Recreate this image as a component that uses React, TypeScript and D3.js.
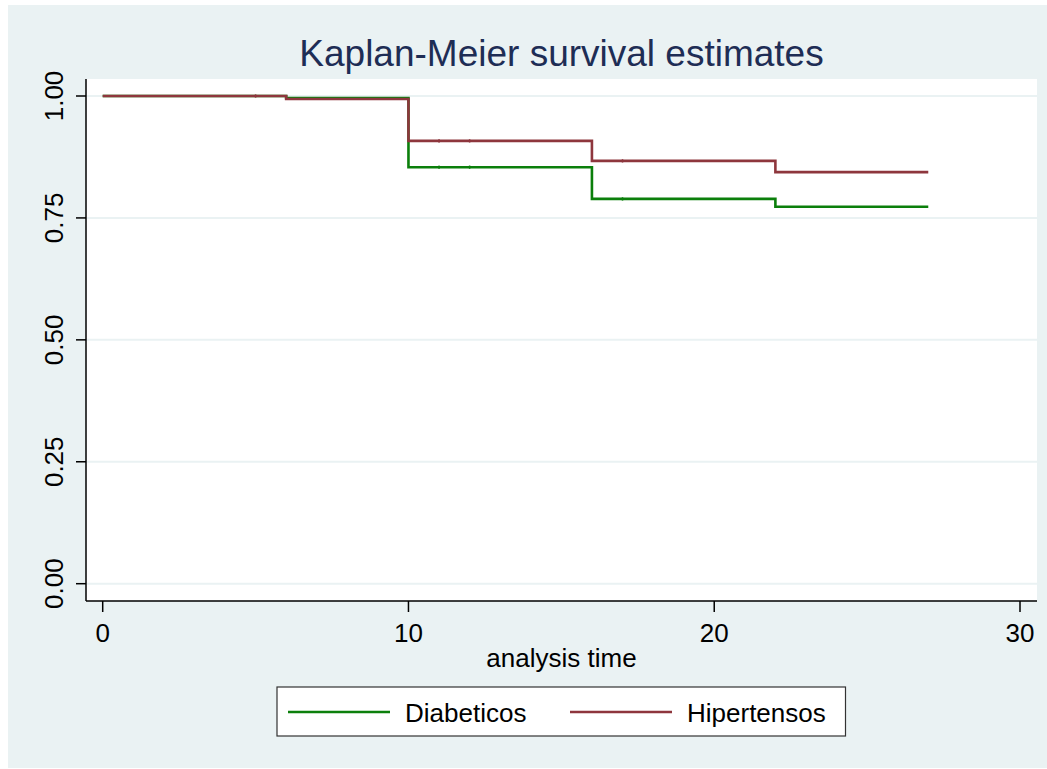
import React from "react";
import * as d3 from "d3";

const groups = ["Diabeticos", "Hipertensos"];
const colors = ["#0B7F0B", "#8E363D"];
// step times and survival values
const diabTimes = [0, 6, 10, 16, 22, 27];
const diabSurv = [1.0, 0.996, 0.854, 0.789, 0.773, 0.773];
const hipTimes = [0, 6, 10, 16, 22, 27];
const hipSurv = [1.0, 0.994, 0.908, 0.867, 0.844, 0.844];
// censoring times
const diabCensor = [11, 12, 17];
const hipCensor = [5, 11, 12, 17];
const xTicks = [0, 10, 20, 30];
const yTicks = [0, 0.25, 0.5, 0.75, 1.0];
const title = "Kaplan-Meier survival estimates";
const xTitle = "analysis time";

const W = 1047, H = 769;
const font = "'Liberation Sans', Arial, sans-serif";

function stepAt(times: number[], surv: number[], t: number) {
  let v = surv[0];
  for (let i = 0; i < times.length; i++) if (times[i] <= t) v = surv[i];
  return v;
}

export default function App() {
  const plotL = 86, plotR = 1037, plotT = 79, plotB = 601;
  const x = d3.scaleLinear().domain([0, 30]).range([102.7, 1020]);
  const y = d3.scaleLinear().domain([0, 1]).range([583.7, 96]);
  const line = d3.line<[number, number]>().x(d => x(d[0])).y(d => y(d[1])).curve(d3.curveStepAfter);
  const series = [
    { times: diabTimes, surv: diabSurv, censor: diabCensor },
    { times: hipTimes, surv: hipSurv, censor: hipCensor },
  ];
  return (
    <svg width={W} height={H} style={{ position: "absolute", left: 0, top: 0 }}>
      <rect x={0} y={0} width={W} height={H} fill="#fff" />
      <rect x={8} y={5} width={1039} height={763} fill="#EAF2F3" />
      <rect x={plotL} y={plotT} width={plotR - plotL} height={plotB - plotT} fill="#fff" />
      {yTicks.map(t => (
        <line key={"g" + t} x1={plotL} x2={plotR} y1={y(t)} y2={y(t)} stroke="#EAF2F3" strokeWidth={2} />
      ))}
      {series.map((s, i) => (
        <g key={i}>
          <path d={line(s.times.map((t, j) => [t, s.surv[j]] as [number, number])) || ""} fill="none" stroke={colors[i]} strokeWidth={2.6} />
          {s.censor.map(c => {
            const v = stepAt(s.times, s.surv, c);
            return <line key={c} x1={x(c)} x2={x(c)} y1={y(v) - 1.8} y2={y(v) + 1.8} stroke={colors[i]} strokeWidth={1.5} opacity={0.8} />;
          })}
        </g>
      ))}
      <line x1={plotL} x2={plotL} y1={plotT} y2={plotB} stroke="#000" strokeWidth={1.5} />
      <line x1={plotL} x2={plotR} y1={plotB} y2={plotB} stroke="#000" strokeWidth={1.5} />
      {yTicks.map(t => (
        <g key={"y" + t}>
          <line x1={plotL - 10} x2={plotL} y1={y(t)} y2={y(t)} stroke="#000" strokeWidth={1.5} />
          <text transform={`translate(63,${y(t)}) rotate(-90)`} textAnchor="middle" fontFamily={font} fontSize={26} fill="#000">
            {d3.format(".2f")(t)}
          </text>
        </g>
      ))}
      {xTicks.map(t => (
        <g key={"x" + t}>
          <line x1={x(t)} x2={x(t)} y1={plotB} y2={plotB + 11} stroke="#000" strokeWidth={1.5} />
          <text x={x(t)} y={641.5} textAnchor="middle" fontFamily={font} fontSize={26} fill="#000">{t}</text>
        </g>
      ))}
      <text x={(plotL + plotR) / 2} y={666.5} textAnchor="middle" fontFamily={font} fontSize={26} fill="#000">{xTitle}</text>
      <text x={(plotL + plotR) / 2} y={66} textAnchor="middle" fontFamily={font} fontSize={37} fill="#1E2D55">{title}</text>
      <rect x={277} y={687} width={568.5} height={49} fill="#fff" stroke="#333" strokeWidth={1.2} />
      {groups.map((g, i) => {
        const lx = i === 0 ? 288 : 570;
        return (
          <g key={g}>
            <line x1={lx} x2={lx + 102} y1={712} y2={712} stroke={colors[i]} strokeWidth={2.5} />
            <text x={lx + 117} y={721.5} fontFamily={font} fontSize={26} fill="#000">{g}</text>
          </g>
        );
      })}
    </svg>
  );
}
